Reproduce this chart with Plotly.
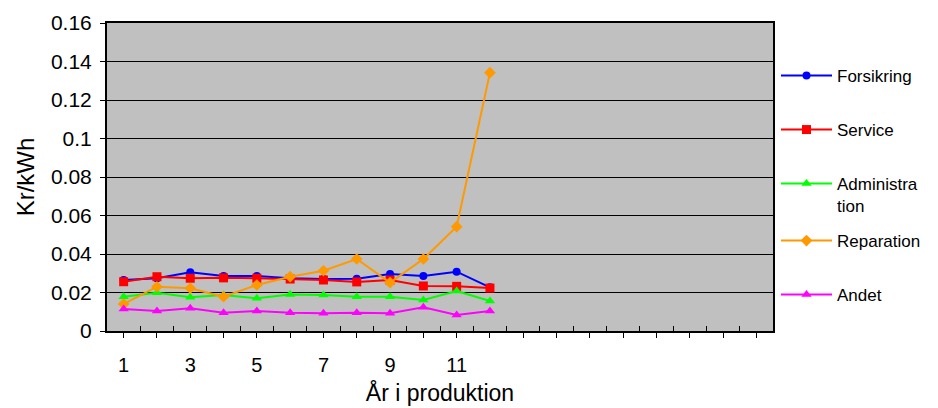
import plotly.graph_objects as go

# ---- data ----
years = list(range(1, 13))
forsikring = [0.0265, 0.0274, 0.0305, 0.0286, 0.0286, 0.0274, 0.0270, 0.0272, 0.0296, 0.0286, 0.0308, 0.0227]
service = [0.0256, 0.0282, 0.0274, 0.0276, 0.0274, 0.0270, 0.0265, 0.0255, 0.0265, 0.0234, 0.0232, 0.0223]
administration = [0.0178, 0.0199, 0.0175, 0.0187, 0.0170, 0.0189, 0.0187, 0.0178, 0.0178, 0.0161, 0.0208, 0.0156]
reparation = [0.0140, 0.0230, 0.0222, 0.0178, 0.0239, 0.0282, 0.0313, 0.0374, 0.0251, 0.0374, 0.0542, 0.1342]
andet = [0.0114, 0.0104, 0.0118, 0.0095, 0.0104, 0.0095, 0.0092, 0.0095, 0.0092, 0.0123, 0.0083, 0.0104]

series_names = ["Forsikring", "Service", "Administra<br>tion", "Reparation", "Andet"]
series_values = [forsikring, service, administration, reparation, andet]
series_colors = ["#0000FF", "#FF0000", "#00FF00", "#FF9900", "#FF00FF"]
series_symbols = ["circle", "square", "triangle-up", "diamond", "triangle-up"]

x_tick_vals = list(range(1, 21))
x_tick_labels = ["1", "", "3", "", "5", "", "7", "", "9", "", "11", "", "", "", "", "", "", "", "", ""]
x_boundaries = [v + 0.5 for v in range(1, 20)]
y_tick_vals = [0, 0.02, 0.04, 0.06, 0.08, 0.1, 0.12, 0.14, 0.16]

FONT = "Liberation Sans, Arial, sans-serif"

OFF = 8  # page body margin
W, H = 938 - OFF, 408 - OFF
ML, MR, MT, MB = 107 - OFF, 165, 23 - OFF, 77

# legend entry vertical centres in window pixels (first text line)
legend_px = [76, 130, 185, 241, 295]
legend_ids = ["legend", "legend2", "legend3", "legend4", "legend5"]

fig = go.Figure()
for name, vals, col, sym, lid in zip(series_names, series_values, series_colors, series_symbols, legend_ids):
    fig.add_trace(go.Scatter(
        x=years, y=vals, name=name, mode="lines+markers",
        line=dict(color=col, width=2),
        marker=dict(color=col, symbol=sym, size=9 if sym != "circle" else 8),
        legend=lid,
    ))

layout_legends = {}
for i, (lid, ypx) in enumerate(zip(legend_ids, legend_px)):
    multi = "<br>" in series_names[i]
    layout_legends[lid] = dict(
        xref="container", yref="container",
        x=(776 - OFF) / W, xanchor="left",
        y=1 - (ypx - OFF + (10 if multi else 0)) / H, yanchor="middle",
        bgcolor="rgba(0,0,0,0)", borderwidth=0,
        font=dict(family=FONT, size=17, color="black"),
        itemwidth=51, valign="top",
    )

fig.update_layout(
    width=W, height=H,
    margin=dict(l=ML, r=MR, t=MT, b=MB, autoexpand=False),
    paper_bgcolor="white", plot_bgcolor="#C0C0C0",
    showlegend=True,
    **layout_legends,
    xaxis=dict(
        range=[0.5, 20.5], automargin=False,
        tickmode="array", tickvals=x_tick_vals, ticktext=x_tick_labels,
        ticks="outside", ticklen=5, tickcolor="black", tickwidth=1,
        ticklabelstandoff=10,
        minor=dict(tickmode="array", tickvals=x_boundaries, ticks="inside", ticklen=5,
                   tickcolor="black", tickwidth=1, showgrid=False),
        showgrid=False, zeroline=False,
        showline=True, linecolor="black", linewidth=2, mirror=True,
        tickfont=dict(family=FONT, size=20, color="black"),
        title=dict(text="År i produktion", font=dict(family=FONT, size=23, color="black"), standoff=10),
    ),
    yaxis=dict(
        range=[0, 0.16], automargin=False,
        tickmode="array", tickvals=y_tick_vals,
        ticks="outside", ticklen=5, tickcolor="black", tickwidth=1,
        ticklabelstandoff=4,
        showgrid=True, gridcolor="black", gridwidth=1,
        zeroline=False,
        showline=True, linecolor="black", linewidth=2, mirror=True,
        tickfont=dict(family=FONT, size=21, color="black"),
        title=dict(text="Kr/kWh", font=dict(family=FONT, size=24, color="black"), standoff=10),
    ),
)

fig.write_html("out.html")
